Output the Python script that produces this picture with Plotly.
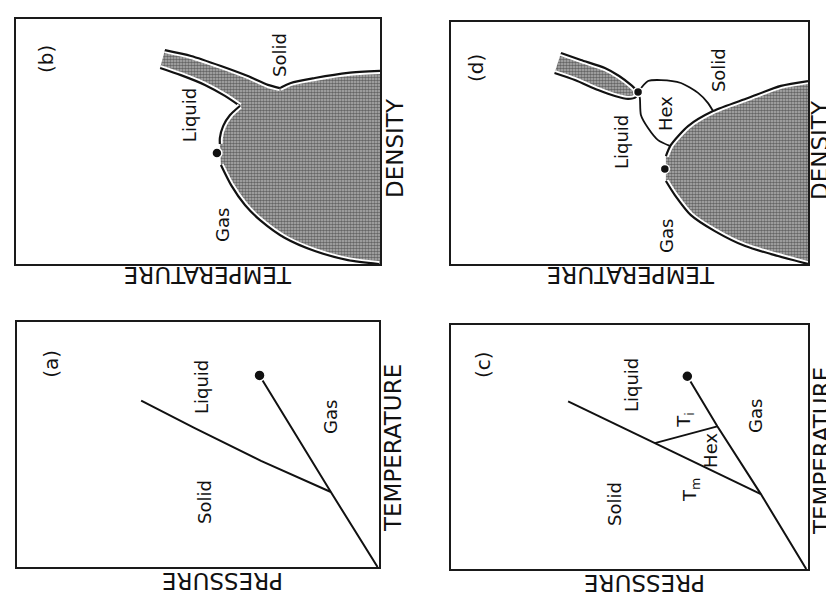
import plotly.graph_objects as go

W, H = 834, 596
FONT = "DejaVu Sans"

# ---------------- data (panel units: u = horizontal 0-100, v = vertical 0-100) -------------
# Panel (a): pressure-temperature, simple substance
a_vap_u = [99.6, 86.7, 67.0]
a_vap_v = [0.0, 30.6, 78.2]
a_melt_u = [86.7, 67.4, 49.1, 34.3]
a_melt_v = [30.6, 43.3, 56.7, 67.9]
a_crit_u, a_crit_v = [67.0], [78.2]

# Panel (c): pressure-temperature with hexatic phase
c_vap_u = [99.5, 86.8, 74.6, 66.2]
c_vap_v = [0.0, 30.7, 58.5, 79.0]
c_melt_u = [86.8, 57.1, 32.8]
c_melt_v = [30.7, 51.6, 68.7]
c_ti_u = [57.1, 74.6]
c_ti_v = [51.6, 58.5]
c_crit_u, c_crit_v = [66.2], [79.0]

# Panel (b): temperature-density, simple substance
b_gas_u = [56.3, 59.1, 62.9, 67.3, 73.9, 82.1, 91.2, 99.7]
b_gas_v = [40.4, 32.2, 24.1, 17.6, 10.6, 5.3, 1.6, 0.0]
b_solid_u = [100.0, 91.2, 82.1, 75.5, 72.5]
b_solid_v = [78.8, 78.0, 75.9, 73.9, 71.8]
b_meltS_u = [72.5, 69.2, 63.7, 56.3, 48.1, 40.9]
b_meltS_v = [71.8, 73.1, 76.7, 80.8, 84.9, 87.3]
b_meltL_u = [39.6, 45.3, 51.9, 57.4, 61.5]
b_meltL_v = [80.0, 77.1, 73.1, 68.6, 64.5]
b_liq_u = [61.5, 58.8, 56.9, 56.0, 56.0]
b_liq_v = [64.5, 60.8, 56.3, 51.4, 49.0]
b_crit_u, b_crit_v = [55.2], [45.3]

# Panel (d): temperature-density with hexatic phase
d_band_lo_u = [29.0, 34.7, 41.2, 45.9, 49.6, 51.8, 52.4]
d_band_lo_v = [78.9, 76.0, 71.9, 69.4, 68.2, 69.0, 71.1]
d_band_hi_u = [30.8, 36.4, 43.1, 47.1, 50.4, 52.4]
d_band_hi_v = [87.2, 84.3, 81.0, 77.7, 74.0, 71.1]
d_hex_r_u = [52.4, 55.2, 58.8, 64.4, 69.2, 72.0, 73.4]
d_hex_r_v = [71.1, 75.6, 76.0, 74.8, 70.7, 66.5, 63.2]
d_hex_l_u = [52.4, 52.9, 53.2, 55.2, 58.0, 61.3]
d_hex_l_v = [71.1, 68.6, 61.6, 56.2, 51.2, 48.8]
d_liq_u = [100.0, 92.4, 83.2, 73.4, 66.4, 61.6, 60.2]
d_liq_v = [75.6, 73.6, 68.6, 63.2, 57.0, 49.2, 44.6]
d_gas_u = [60.2, 62.7, 67.2, 73.9, 82.4, 91.6, 100.0]
d_gas_v = [34.3, 28.5, 20.2, 13.6, 7.4, 3.3, 0.0]
d_crit_u, d_crit_v = [59.9, 52.4], [39.3, 71.1]

# region labels: (u, v, text)
a_labels = [(11.3, 82.9, "(a)"), (52.8, 73.5, "Liquid"), (88.1, 61.2, "Gas"), (53.3, 26.5, "Solid")]
b_labels = [(10.2, 83.7, "(b)"), (49.2, 60.8, "Liquid"), (73.9, 85.3, "Solid"), (58.2, 15.9, "Gas")]
c_labels = [(10.9, 84.0, "(c)"), (52.1, 75.4, "Liquid"), (67.2, 61.1, "T<sub>i</sub>"),
            (74.5, 48.8, "Hex"), (68.9, 32.4, "T<sub>m</sub>"), (86.8, 62.7, "Gas"), (47.3, 26.6, "Solid")]
d_labels = [(9.0, 81.0, "(d)"), (49.3, 50.4, "Liquid"), (61.9, 62.4, "Hex"),
            (76.8, 80.2, "Solid"), (62.2, 11.6, "Gas")]

# ---------------- layout geometry (pixel boxes of the four panels) ----------------
boxes = {
    "": (8, 372, 11, 256),     # (b)
    "2": (443, 800, 14, 256),  # (d)
    "3": (9, 371, 314, 559),   # (a)
    "4": (443, 800, 317, 561), # (c)
}

fig = go.Figure()


def add_line(s, u, v, width=2.0, color="#111111", shape="spline"):
    fig.add_trace(go.Scatter(x=u, y=v, mode="lines",
                             line=dict(color=color, width=width, shape=shape, smoothing=0.7),
                             xaxis="x" + s, yaxis="y" + s, hoverinfo="skip", showlegend=False))


def add_cased(s, u, v):
    add_line(s, u, v, width=6, color="white")
    add_line(s, u, v, width=2.2)


def add_fill(s, u, v):
    fig.add_trace(go.Scatter(x=u, y=v, mode="lines", fill="toself",
                             fillcolor="#7a7a7a",
                             fillpattern=dict(shape=".", fgcolor="#151515", bgcolor="#b4b4b4",
                                              size=3, solidity=0.6),
                             line=dict(width=0, color="rgba(0,0,0,0)"),
                             xaxis="x" + s, yaxis="y" + s, hoverinfo="skip", showlegend=False))


def add_dots(s, u, v, size=10):
    fig.add_trace(go.Scatter(x=u, y=v, mode="markers",
                             marker=dict(size=size, color="#111111", line=dict(color="white", width=1.5)),
                             xaxis="x" + s, yaxis="y" + s, hoverinfo="skip", showlegend=False,
                             cliponaxis=False))


# Panel (b)
add_fill("", b_gas_u + [100.0] + b_solid_u + b_meltS_u[1:] + b_meltL_u + b_liq_u[1:],
         b_gas_v + [0.0] + b_solid_v + b_meltS_v[1:] + b_meltL_v + b_liq_v[1:])
for uu, vv in [(b_gas_u, b_gas_v), (b_solid_u, b_solid_v), (b_meltS_u, b_meltS_v),
               (b_meltL_u, b_meltL_v), (b_liq_u, b_liq_v)]:
    add_cased("", uu, vv)
add_dots("", b_crit_u, b_crit_v)

# Panel (d)
add_fill("2", d_band_lo_u + d_band_hi_u[::-1], d_band_lo_v + d_band_hi_v[::-1])
add_fill("2", d_liq_u + d_gas_u, d_liq_v + d_gas_v)
for uu, vv in [(d_band_lo_u, d_band_lo_v), (d_band_hi_u, d_band_hi_v),
               (d_liq_u, d_liq_v), (d_gas_u, d_gas_v)]:
    add_cased("2", uu, vv)
add_line("2", d_hex_r_u, d_hex_r_v, width=1.8)
add_line("2", d_hex_l_u, d_hex_l_v, width=1.8)
add_dots("2", d_crit_u, d_crit_v, size=9)

# Panel (a)
add_line("3", a_vap_u, a_vap_v, shape="linear")
add_line("3", a_melt_u, a_melt_v, shape="linear")
add_dots("3", a_crit_u, a_crit_v, size=11)

# Panel (c)
add_line("4", c_vap_u, c_vap_v, shape="linear")
add_line("4", c_melt_u, c_melt_v, shape="linear")
add_line("4", c_ti_u, c_ti_v, width=1.8, shape="linear")
add_dots("4", c_crit_u, c_crit_v, size=11)

annotations = []
for s, labs in [("", b_labels), ("2", d_labels), ("3", a_labels), ("4", c_labels)]:
    for u, v, t in labs:
        size = 20 if t.startswith("(") else 18
        annotations.append(dict(x=u, y=v, xref="x" + s, yref="y" + s, text=t, showarrow=False,
                                textangle=-90, xanchor="center", yanchor="middle",
                                xshift=-round(0.36 * size),
                                font=dict(family=FONT, size=size, color="#111111")))

# axis titles (image is a page rotated 90 degrees)
axis_titles = [
    (200, 275, "TEMPERATURE", 180), (395, 140, "DENSITY", -90),
    (623, 275, "TEMPERATURE", 180), (820, 142, "DENSITY", -90),
    (215, 581, "PRESSURE", 180), (393, 440, "TEMPERATURE", -90),
    (637, 583, "PRESSURE", 180), (822, 443, "TEMPERATURE", -90),
]
for px, py, t, ang in axis_titles:
    sz = 23
    shift = dict(xshift=-8) if ang == -90 else dict(yshift=8)
    annotations.append(dict(x=px / W, y=1 - py / H, xref="paper", yref="paper", text=t,
                            showarrow=False, textangle=ang, xanchor="center", yanchor="middle",
                            font=dict(family=FONT, size=sz, color="#111111"), **shift))

layout = dict(width=W, height=H, margin=dict(l=0, r=0, t=0, b=0),
              paper_bgcolor="white", plot_bgcolor="white", showlegend=False,
              annotations=annotations)
for s, (L, R, T, B) in boxes.items():
    common = dict(range=[0, 100], showgrid=False, zeroline=False, showticklabels=False,
                  ticks="", showline=True, mirror=True, linecolor="#1a1a1a", linewidth=1.5,
                  fixedrange=True)
    layout["xaxis" + s] = dict(domain=[L / W, R / W], anchor="y" + s, **common)
    layout["yaxis" + s] = dict(domain=[1 - B / H, 1 - T / H], anchor="x" + s, **common)

fig.update_layout(**layout)
fig.write_html("out.html")
